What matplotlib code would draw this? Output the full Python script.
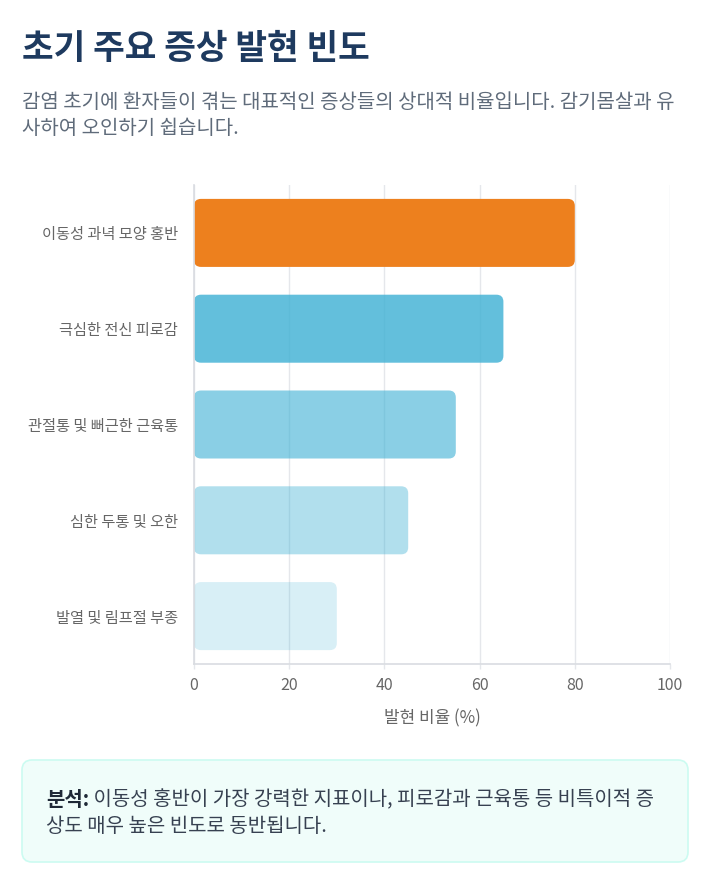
import matplotlib
matplotlib.use("Agg")
import matplotlib.pyplot as plt
from matplotlib.patches import FancyBboxPatch
from matplotlib.transforms import IdentityTransform

plt.rcParams["font.family"] = ["Noto Sans CJK KR", "DejaVu Sans"]

# data
symptoms = ["이동성 과녁 모양 홍반", "극심한 전신 피로감", "관절통 및 뻐근한 근육통", "심한 두통 및 오한", "발열 및 림프절 부종"]
rates = [80, 65, 55, 45, 30]
bar_colors = ["#ED801E", "#3CB0D4", "#3CB0D4", "#3CB0D4", "#3CB0D4"]
bar_alphas = [1.0, 0.8, 0.6, 0.4, 0.2]
x_ticks = [0, 20, 40, 60, 80, 100]

title = "초기 주요 증상 발현 빈도"
subtitle = ["감염 초기에 환자들이 겪는 대표적인 증상들의 상대적 비율입니다. 감기몸살과 유",
            "사하여 오인하기 쉽습니다."]
note_head = "분석:"
note_lines = [" 이동성 홍반이 가장 강력한 지표이나, 피로감과 근육통 등 비특이적 증",
              "상도 매우 높은 빈도로 동반됩니다."]

W, H = 720, 883
fig = plt.figure(figsize=(W / 100, H / 100), dpi=100)
fig.patch.set_facecolor("white")

# axes placed in pixels
ax_l, ax_r, ax_t, ax_b = 194, 670, 185, 664
ax = fig.add_axes([ax_l / W, 1 - ax_b / H, (ax_r - ax_l) / W, (ax_b - ax_t) / H])

ypos = list(range(len(symptoms)))
bars = ax.barh(ypos, rates, height=0.71)
ax.set_xlim(0, 100)
ax.set_ylim(len(symptoms) - 0.5, -0.5)

# swap plain bars for rounded ones
px_x = (ax_r - ax_l) / 100
px_y = (ax_b - ax_t) / len(symptoms)
radius = 7
for patch, c, a in zip(bars.patches, bar_colors, bar_alphas):
    x0, y0 = patch.get_x(), patch.get_y()
    w, h = patch.get_width(), patch.get_height()
    patch.remove()
    ax.add_patch(FancyBboxPatch((x0, y0), w, h,
                                boxstyle=f"round,pad=0,rounding_size={radius / px_x}",
                                mutation_aspect=px_x / px_y,
                                facecolor=c, alpha=a, edgecolor="none", zorder=2))

ax.set_yticks(ypos)
ax.set_yticklabels(symptoms)
ax.set_xticks(x_ticks)
ax.tick_params(axis="y", length=0, pad=11.5, labelsize=11, labelcolor="#666666")
ax.tick_params(axis="x", length=3.6, width=1, color="#E5E7EB", pad=6, labelsize=11.5,
               labelcolor="#666666")
ax.grid(axis="x", color="#E5E7EB", linewidth=1, zorder=0)
ax.set_axisbelow(True)
for s in ["top", "right"]:
    ax.spines[s].set_visible(False)
for s in ["left", "bottom"]:
    ax.spines[s].set_color("#D9DCE1")
    ax.spines[s].set_linewidth(1.2)

ax.set_xlabel("발현 비율 (%)", fontsize=12.2, color="#666666", va="center")
ax.xaxis.set_label_coords(0.5, -(718 - ax_b) / (ax_b - ax_t))

# header
fig.text(22 / W, 1 - 48 / H, title, fontsize=24.8, fontweight="bold", color="#1E3A5F",
         va="center", ha="left")
for i, line in enumerate(subtitle):
    fig.text(22 / W, 1 - (102 + 26 * i) / H, line, fontsize=14.4, color="#5F6B7A",
             va="center", ha="left")

# note box
box = FancyBboxPatch((22, H - 862), 666, 102, boxstyle="round,pad=0,rounding_size=10",
                     transform=IdentityTransform(), facecolor="#F0FDFA",
                     edgecolor="#CCFBF1", linewidth=1.2)
fig.patches.append(box)
head = fig.text(46 / W, 1 - 800 / H, note_head, fontsize=14.4, fontweight="bold",
                color="#1F2937", va="center", ha="left")
fig.canvas.draw()
head_w = head.get_window_extent().width
fig.text((46 + head_w) / W, 1 - 800 / H, note_lines[0], fontsize=14.4, color="#374151",
         va="center", ha="left")
fig.text(46 / W, 1 - 826 / H, note_lines[1], fontsize=14.4, color="#374151",
         va="center", ha="left")

fig.savefig("out.png", dpi=100)
